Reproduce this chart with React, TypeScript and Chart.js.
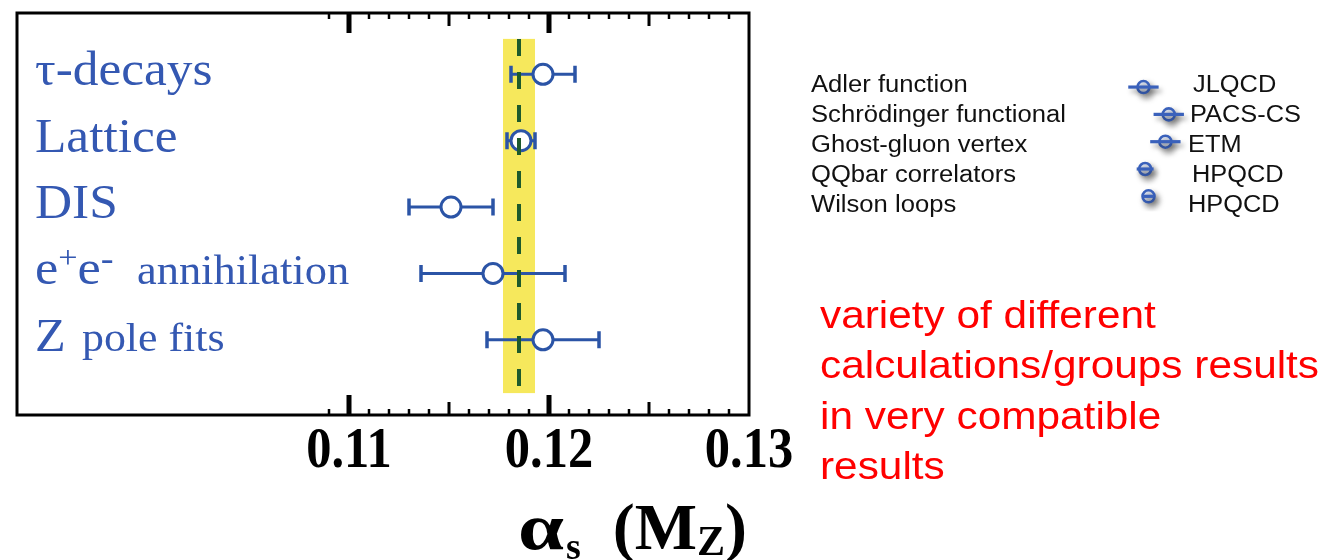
import React, { useEffect, useRef } from "react";
import { Chart, registerables } from "chart.js";

Chart.register(...registerables);

// Measurement categories (top to bottom) and their alpha_s(M_Z) averages
const categories = ["τ-decays", "Lattice", "DIS", "e⁺e⁻ annihilation", "Z pole fits"];
const rowPos = [5, 4, 3, 2, 1];
const alphaValues = [0.1197, 0.1186, 0.1151, 0.1172, 0.1197];
const alphaErrors = [0.0016, 0.0007, 0.0021, 0.0036, 0.0028];

// World average (dashed line) and its uncertainty band
const worldAverage = 0.1185;
const worldAverageError = 0.0008;

// Axis tick labels and minor tick range (in units of 0.001)
const tickLabels = [0.11, 0.12, 0.13];
const minorTickFrom = 109;
const minorTickTo = 129;

// Lattice determinations listed on the right
const latticeMethods = ["Adler function", "Schrödinger functional", "Ghost-gluon vertex", "QQbar correlators", "Wilson loops"];
const latticeGroups = ["JLQCD", "PACS-CS", "ETM", "HPQCD", "HPQCD"];
const latticeValues = [0.1181, 0.1196, 0.1194, 0.1182, 0.1184];
const latticeErrors = [0.0009, 0.0009, 0.0009, 0.0005, 0.0003];

const noteLines = [
  "variety of different",
  "calculations/groups results",
  "in very compatible",
  "results",
];

const BLUE = "#2b54a6";
const LABEL_BLUE = "#3458b2";
const SERIF = "'Liberation Serif', 'Times New Roman', serif";
const SANS = "'Liberation Sans', Arial, sans-serif";

type Run = { t: string; s: number; rise?: number; x?: number };

// Typeset pieces of each category label (sizes / superscripts)
const labelRuns: Run[][] = [
  [{ t: categories[0], s: 48 }],
  [{ t: categories[1], s: 48 }],
  [{ t: categories[2], s: 48 }],
  [
    { t: "e", s: 49 },
    { t: "+", s: 32, rise: 16 },
    { t: "e", s: 49 },
    { t: "-", s: 36, rise: 14 },
    { t: "annihilation", s: 41.5, x: 102 },
  ],
  [
    { t: "Z", s: 47 },
    { t: "pole fits", s: 41, x: 47 },
  ],
];

function drawText(
  ctx: CanvasRenderingContext2D,
  text: string,
  x: number,
  y: number,
  font: string,
  color: string,
  sx = 1,
  align: CanvasTextAlign = "left"
) {
  ctx.save();
  ctx.font = font;
  ctx.fillStyle = color;
  ctx.textAlign = align;
  ctx.textBaseline = "alphabetic";
  ctx.translate(x, y);
  ctx.scale(sx, 1);
  ctx.fillText(text, 0, 0);
  const w = ctx.measureText(text).width * sx;
  ctx.restore();
  return w;
}

const mainPlugin = {
  id: "alphasDecor",
  beforeDatasetsDraw(chart: any) {
    const { ctx, scales } = chart;
    const xs = scales.x;
    const ys = scales.y;
    ctx.save();
    // uncertainty band of the world average
    const bx0 = xs.getPixelForValue(worldAverage - worldAverageError);
    const bx1 = xs.getPixelForValue(worldAverage + worldAverageError);
    const by0 = ys.getPixelForValue(5.534);
    const by1 = ys.getPixelForValue(0.197);
    ctx.fillStyle = "#f6e85c";
    ctx.fillRect(bx0, by0, bx1 - bx0, by1 - by0);

    // horizontal error bars with end caps
    ctx.strokeStyle = BLUE;
    ctx.lineCap = "butt";
    alphaValues.forEach((v, i) => {
      const y = ys.getPixelForValue(rowPos[i]);
      const xl = xs.getPixelForValue(v - alphaErrors[i]);
      const xr = xs.getPixelForValue(v + alphaErrors[i]);
      ctx.lineWidth = 3;
      ctx.beginPath();
      ctx.moveTo(xl, y);
      ctx.lineTo(xr, y);
      ctx.stroke();
      ctx.lineWidth = 3.5;
      ctx.beginPath();
      ctx.moveTo(xl, y - 8.5);
      ctx.lineTo(xl, y + 8.5);
      ctx.moveTo(xr, y - 8.5);
      ctx.lineTo(xr, y + 8.5);
      ctx.stroke();
    });
    ctx.restore();
  },
  afterDatasetsDraw(chart: any) {
    const { ctx, scales, chartArea } = chart;
    const xs = scales.x;
    const ys = scales.y;
    ctx.save();

    // dashed world-average line
    const ax = xs.getPixelForValue(worldAverage);
    ctx.strokeStyle = "#1d5a2c";
    ctx.lineWidth = 4;
    ctx.setLineDash([17, 16]);
    ctx.beginPath();
    ctx.moveTo(ax, ys.getPixelForValue(5.534));
    ctx.lineTo(ax, ys.getPixelForValue(0.197));
    ctx.stroke();
    ctx.setLineDash([]);

    // frame
    ctx.strokeStyle = "#000";
    ctx.lineWidth = 3;
    ctx.strokeRect(chartArea.left, chartArea.top, chartArea.right - chartArea.left, chartArea.bottom - chartArea.top);

    // inward ticks on top and bottom edges
    for (let k = minorTickFrom; k <= minorTickTo; k++) {
      const px = xs.getPixelForValue(k / 1000);
      let len = 6;
      let w = 2.5;
      if (k % 10 === 0) {
        len = 20;
        w = 5;
      } else if (k % 5 === 0) {
        len = 13;
        w = 3;
      }
      ctx.lineWidth = w;
      ctx.beginPath();
      ctx.moveTo(px, chartArea.bottom);
      ctx.lineTo(px, chartArea.bottom - len);
      ctx.moveTo(px, chartArea.top);
      ctx.lineTo(px, chartArea.top + len);
      ctx.stroke();
    }

    // tick labels
    tickLabels.forEach((v) => {
      drawText(ctx, v.toFixed(2), xs.getPixelForValue(v), 467, `bold 58px ${SERIF}`, "#000", 0.87, "center");
    });

    // axis title: alpha_s (M_Z)
    let tx = 518;
    const tb = 549;
    tx += drawText(ctx, "α", tx, tb, `bold 66px ${SERIF}`, "#000", 1.25);
    tx += drawText(ctx, "s", tx + 2, tb + 10, `bold 38px ${SERIF}`, "#000", 1.0) + 34;
    tx += drawText(ctx, "(M", tx, tb, `bold 66px ${SERIF}`, "#000", 1.0);
    tx += drawText(ctx, "Z", tx, tb + 6, `bold 42px ${SERIF}`, "#000", 1.0);
    drawText(ctx, ")", tx, tb, `bold 66px ${SERIF}`, "#000", 1.0);

    // category labels inside the frame
    labelRuns.forEach((runs, i) => {
      const base = ys.getPixelForValue(rowPos[i]) + 11;
      let x = 35;
      runs.forEach((r) => {
        if (r.x !== undefined) x = 35 + r.x;
        x += drawText(ctx, r.t, x, base - (r.rise || 0), `${r.s}px ${SERIF}`, LABEL_BLUE, 1.07);
      });
    });

    // lattice list
    const groupX = [1193, 1190, 1188, 1192, 1188];
    latticeMethods.forEach((m, i) => {
      const b = 91.7 + 30 * i;
      drawText(ctx, m, 811, b, `23.5px ${SANS}`, "#111", 1.09);
      drawText(ctx, latticeGroups[i], groupX[i], b, `23.5px ${SANS}`, "#111", 1.08);
    });

    // remark in red
    noteLines.forEach((line, i) => {
      drawText(ctx, line, 820, 328 + 50.4 * i, `38.5px ${SANS}`, "#ff0000", 1.1);
    });

    ctx.restore();
  },
};

const insetPlugin = {
  id: "latticeBars",
  beforeDatasetDraw(chart: any) {
    const ctx = chart.ctx;
    ctx.save();
    ctx.shadowColor = "rgba(0,0,0,0.45)";
    ctx.shadowBlur = 6;
    ctx.shadowOffsetX = 3;
    ctx.shadowOffsetY = 4;
  },
  afterDatasetDraw(chart: any) {
    chart.ctx.restore();
  },
  afterDatasetsDraw(chart: any) {
    const { ctx, scales } = chart;
    ctx.save();
    ctx.shadowColor = "rgba(0,0,0,0.35)";
    ctx.shadowBlur = 5;
    ctx.shadowOffsetX = 3;
    ctx.shadowOffsetY = 4;
    ctx.strokeStyle = "#3a61bb";
    ctx.lineWidth = 3.2;
    latticeValues.forEach((v, i) => {
      const y = scales.y.getPixelForValue(rowPos[i]);
      ctx.beginPath();
      ctx.moveTo(scales.x.getPixelForValue(v - latticeErrors[i]), y);
      ctx.lineTo(scales.x.getPixelForValue(v + latticeErrors[i]), y);
      ctx.stroke();
    });
    ctx.restore();
  },
};

export default function App() {
  const mainRef = useRef<HTMLCanvasElement>(null);
  const insetRef = useRef<HTMLCanvasElement>(null);

  useEffect(() => {
    document.body.style.margin = "0";
    const main = new Chart(mainRef.current!, {
      type: "scatter",
      data: {
        datasets: [
          {
            label: "alpha_s",
            data: alphaValues.map((v, i) => ({ x: v, y: rowPos[i] })),
            pointRadius: 10,
            pointHoverRadius: 10,
            pointBorderWidth: 3,
            borderColor: BLUE,
            backgroundColor: "#ffffff",
            pointBackgroundColor: "#ffffff",
            pointBorderColor: BLUE,
          },
        ],
      },
      options: {
        responsive: false,
        animation: false,
        devicePixelRatio: 1,
        layout: { padding: { left: 17, top: 11, right: 591, bottom: 145 } },
        plugins: { legend: { display: false }, tooltip: { enabled: false } },
        events: [],
        scales: {
          x: { type: "linear", min: 0.0934, max: 0.13, display: false },
          y: { type: "linear", min: -0.133, max: 5.924, display: false },
        },
      },
      plugins: [mainPlugin],
    });

    const inset = new Chart(insetRef.current!, {
      type: "scatter",
      data: {
        datasets: [
          {
            label: "lattice",
            data: latticeValues.map((v, i) => ({ x: v, y: rowPos[i] })),
            pointRadius: 6,
            pointBorderWidth: 2.6,
            pointBorderColor: "#3a61bb",
            pointBackgroundColor: "rgba(226,233,248,0.95)",
          },
        ],
      },
      options: {
        responsive: false,
        animation: false,
        devicePixelRatio: 1,
        layout: { padding: 0 },
        plugins: { legend: { display: false }, tooltip: { enabled: false } },
        events: [],
        scales: {
          x: { type: "linear", min: 0.116035, max: 0.121535, display: false },
          y: { type: "linear", min: 0.448, max: 5.676, display: false },
        },
      },
      plugins: [insetPlugin],
    });

    return () => {
      main.destroy();
      inset.destroy();
    };
  }, []);

  return (
    <div style={{ position: "relative", width: 1340, height: 560, background: "#fff" }}>
      <canvas ref={mainRef} width={1340} height={560} style={{ position: "absolute", left: 0, top: 0 }} />
      <canvas ref={insetRef} width={110} height={160} style={{ position: "absolute", left: 1100, top: 60 }} />
    </div>
  );
}
